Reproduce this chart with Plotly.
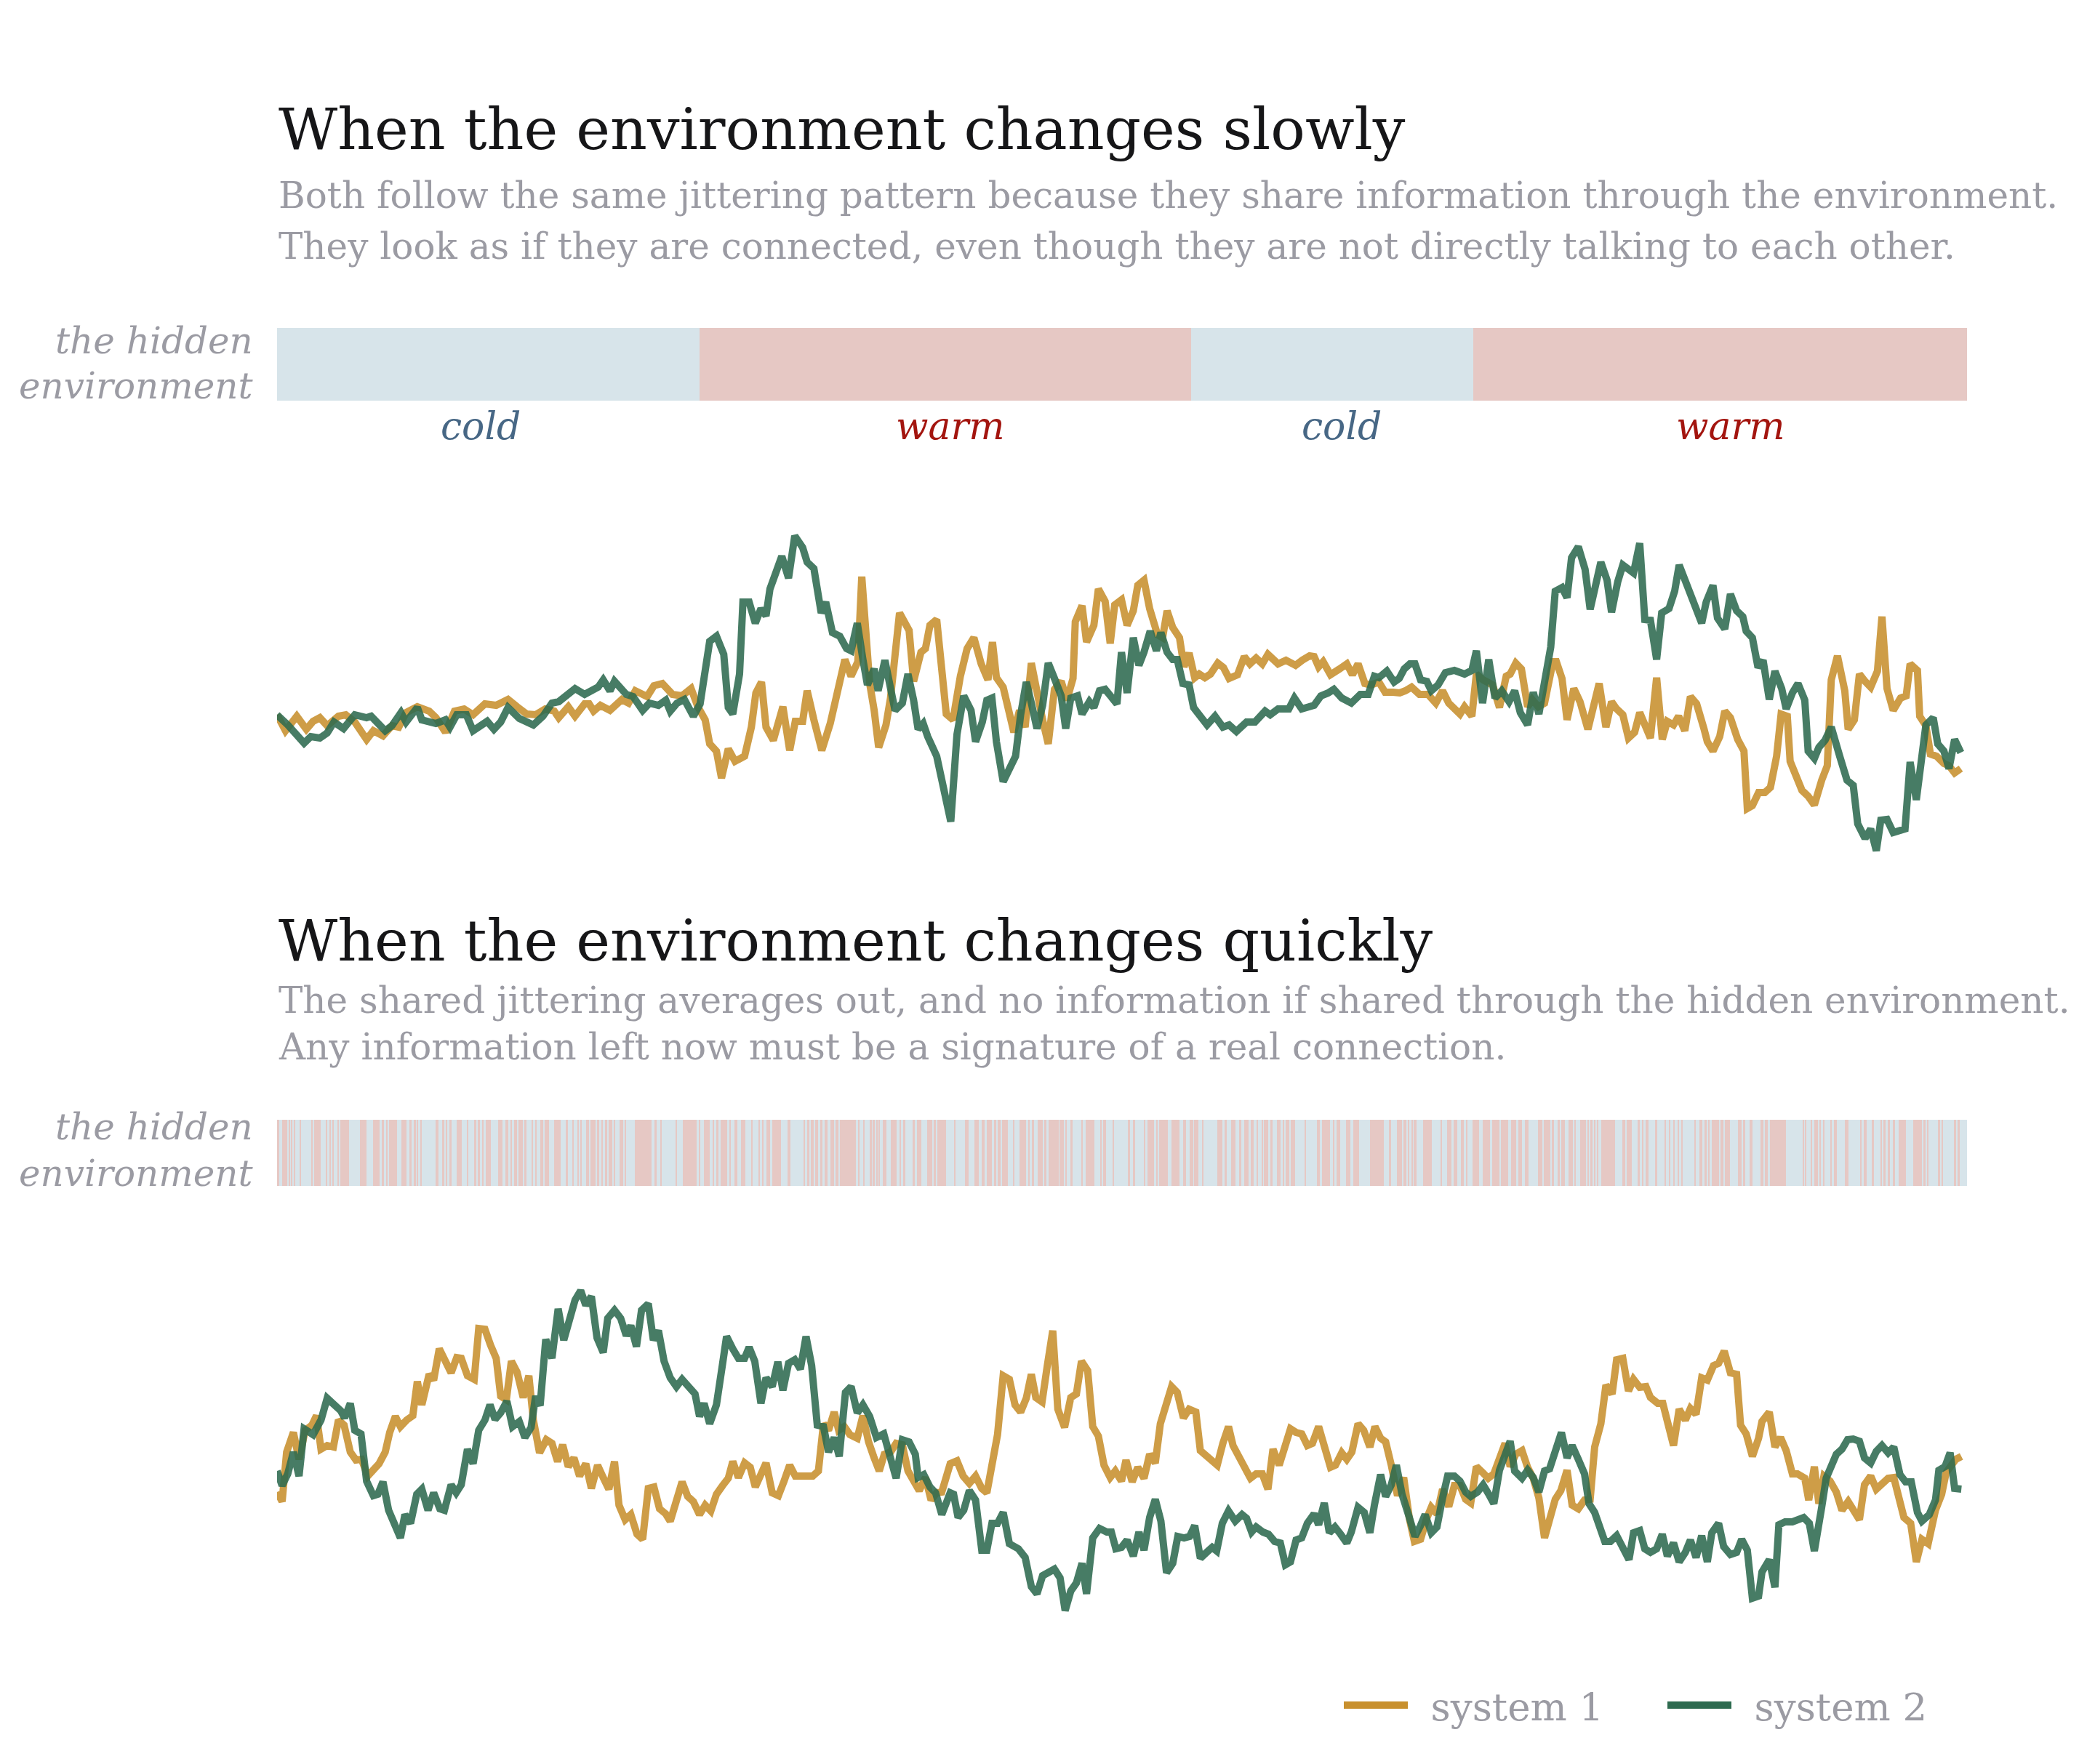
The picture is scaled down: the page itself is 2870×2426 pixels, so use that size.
import plotly.graph_objects as go

W, H = 2870, 2426

# ---------------- data ----------------
# slow panel, system 1 (orange) : time step, value
slow_s1_t = [0,1.5,3.5,5.2,6.4,7.6,8.9,10.9,12.2,13.8,15.9,17.1,18.8,20.4,21.6,22.9,24.9,27.0,28.2,29.9,31.5,33.2,34.8,36.9,38.9,41.0,42.6,44.3,45.9,47.6,49.2,50.0,51.7,52.9,54.6,55.4,56.2,57.4,59.1,61.2,62.4,63.6,65.7,66.9,68.4,70.2,71.9,73.5,74.7,76.0,76.8,78.0,78.9,80.1,81.3,83.0,84.2,85.0,86.0,86.8,88.1,89.8,91.0,92.0,93.3,94.1,95.3,96.7,98.2,99.4,100.8,101.9,103.1,103.8,105.2,106.0,106.8,108.1,108.9,110.5,112.2,113.0,114.3,115.1,115.9,117.1,118.8,120.0,121.3,122.5,123.7,125.0,126.2,127.0,127.7,128.9,129.7,130.8,131.8,132.8,133.9,135.1,135.9,136.9,138.0,139.2,140.2,141.3,141.7,142.9,143.7,145.0,145.8,147.0,147.9,148.7,149.9,150.9,152.0,152.8,153.9,154.9,156.3,157.2,158.0,159.0,160.2,161.0,161.9,162.9,163.7,164.7,165.7,167.0,168.0,169.0,170.5,171.7,172.7,173.8,174.9,175.9,177.7,179.1,180.8,182.0,183.3,184.1,184.9,185.7,187.0,188.6,189.9,190.9,191.9,193.1,194.2,195.6,196.7,198.1,199.3,200.3,201.4,202.8,204.3,205.7,206.9,208.0,210.0,210.8,212.1,212.9,214.1,215.8,217.0,218.2,218.9,219.9,220.9,222.0,222.8,223.9,225.0,226.5,227.1,228.1,229.0,230.2,231.3,232.7,233.7,234.7,235.9,236.9,237.8,238.9,239.9,241.0,241.9,243.0,243.8,244.9,245.9,246.8,247.9,248.8,249.9,250.9,252.0,253.3,253.9,254.9,256.1,257.0,258.0,259.3,260.4,261.0,261.9,263.0,264.1,265.1,266.2,267.0,268.1,268.6,269.6,270.7,271.8,272.9,274.2,275.2,275.9,277.0,278.3,278.9,280.0,280.9,281.9,282.9,284.1,284.9,285.8,286.9,288.2,289.2,289.9,291.2,291.6,292.7,293.5,294.6,295.9,296.8,297.8,298.9]
slow_s1_v = [0.2,-2.0,0.0,-1.8,-0.7,-0.2,-1.3,0.0,0.2,-0.8,-3.2,-2.0,-2.7,-1.3,-1.5,0.5,1.3,0.7,-0.2,-2.2,0.7,1.0,0.2,1.7,1.5,2.3,1.3,0.3,0.2,1.0,0.7,-0.2,1.3,0.0,1.7,1.7,0.7,1.5,0.8,2.3,1.8,3.5,2.7,4.2,4.5,3.0,2.8,3.8,1.3,-0.5,-3.8,-4.8,-8.5,-4.5,-6.2,-5.5,-1.5,3.2,4.7,-1.5,-3.3,1.3,-4.7,-0.7,-0.7,3.5,-0.5,-4.7,-1.0,3.2,7.8,5.5,7.5,19.2,4.5,0.8,-4.3,-1.2,2.5,14.2,11.8,4.8,8.8,9.3,12.5,13.3,0.3,-0.5,5.5,9.3,10.8,7.2,5.0,10.2,5.3,4.0,1.3,-2.2,0.8,-1.5,7.3,1.8,-0.5,-3.8,3.7,4.8,2.2,5.2,13.0,15.2,10.2,12.5,17.5,15.8,10.0,15.3,16.0,12.5,14.5,18.0,18.7,14.8,11.2,10.8,14.5,12.2,10.8,6.8,8.7,5.3,5.8,5.3,5.8,7.3,6.7,5.2,5.7,8.2,7.2,8.0,7.2,8.5,7.2,7.7,7.0,7.7,8.3,8.2,6.8,7.5,5.7,6.5,7.2,5.7,7.2,4.5,4.3,4.7,3.3,3.3,3.2,3.5,4.0,3.0,3.0,1.8,3.5,1.8,0.3,1.3,0.0,5.8,5.0,4.3,1.2,5.5,5.8,7.3,6.5,1.3,2.3,1.3,1.8,7.5,7.5,5.2,-0.5,3.8,2.0,-1.8,1.7,4.5,-1.5,2.0,1.0,0.2,-3.0,-2.2,0.5,-1.5,-3.0,5.3,-3.2,-0.7,-1.2,0.0,-2.0,2.7,1.7,-1.7,-3.5,-4.8,-2.8,0.7,-0.2,-3.2,-4.8,-12.7,-12.3,-10.5,-10.5,-9.8,-5.5,0.3,0.0,-6.2,-8.2,-10.2,-11.0,-12.2,-8.8,-6.8,5.0,8.3,3.5,-1.8,-0.5,5.8,4.8,4.0,6.2,13.7,3.8,0.8,2.5,2.8,7.2,6.3,0.0,-1.3,-5.2,-5.5,-6.5,-6.8,-7.8,-7.2]

# slow panel, system 2 (green)
slow_s2_t = [0,1.9,4.8,6.0,7.6,8.9,10.1,11.8,13.8,15.9,16.7,19.2,20.4,22.0,22.9,24.9,25.7,28.2,29.9,30.7,31.9,33.6,34.8,37.3,38.5,39.7,41.0,43.0,45.5,47.2,48.8,50.0,52.9,54.6,57.0,57.9,59.1,59.9,62.0,63.2,64.9,66.1,67.7,69.0,69.8,71.0,72.3,73.9,75.1,76.0,76.8,78.0,79.3,80.1,80.9,82.1,82.7,83.8,84.9,85.9,86.8,87.5,88.3,89.6,90.8,91.9,93.3,94.1,95.3,96.6,97.4,98.6,99.9,101.1,101.9,103.0,104.0,104.8,106.0,106.7,107.9,109.7,111.0,112.0,113.0,113.8,114.7,115.5,117.1,118.4,119.6,120.7,121.9,123.2,124.0,125.2,126.0,126.9,127.7,128.9,130.2,131.1,132.0,133.0,133.9,134.9,135.9,136.9,138.0,139.2,140.0,140.9,142.1,142.9,144.2,145.0,146.0,147.0,149.1,149.9,150.9,152.0,153.0,153.9,155.0,156.1,156.9,158.0,159.0,159.8,160.8,161.9,162.7,163.7,165.1,166.5,167.9,169.0,170.3,172.1,173.6,175.4,176.3,177.7,179.6,180.6,181.9,184.1,185.3,186.6,187.6,189.0,190.7,192.3,193.7,194.8,195.6,197.0,198.3,199.2,200.1,201.1,202.0,203.0,204.1,204.9,206.1,207.4,209.0,210.8,212.1,212.9,214.0,215.1,216.2,217.4,218.7,219.7,220.7,222.0,223.0,224.0,225.2,226.1,226.9,228.1,229.0,229.8,231.0,232.2,233.1,235.0,236.1,236.9,238.0,238.9,240.8,241.9,242.8,243.8,244.9,245.8,247.1,248.1,248.9,250.3,251.6,252.9,253.7,254.9,255.7,257.0,258.0,259.1,260.2,260.8,261.9,262.9,263.8,264.9,265.9,267.1,267.9,269.0,270.0,271.2,271.8,272.9,273.7,274.8,275.9,276.5,277.4,278.7,279.8,280.6,281.9,282.9,283.9,284.7,285.8,286.9,289.0,289.9,291.0,292.7,294.0,294.8,295.9,296.8,297.8,298.9]
slow_s2_v = [0.2,-1.2,-3.7,-2.8,-3.0,-2.3,-0.8,-1.7,0.2,-0.2,0.0,-2.0,-1.3,0.5,-0.8,1.2,-0.5,-1.0,-0.5,-1.5,0.2,0.2,-2.0,-0.7,-1.8,-0.8,1.2,-0.3,-1.2,0.0,1.8,2.0,3.8,3.0,4.0,5.0,3.5,4.8,3.0,2.7,0.8,1.8,1.5,2.2,0.7,1.8,2.3,0.0,1.7,6.8,10.3,11.0,8.5,1.2,0.3,5.8,15.7,15.7,12.8,14.8,13.8,17.5,19.5,22.0,19.0,24.8,23.2,21.2,20.3,14.2,15.7,11.5,11.0,9.3,9.0,12.8,7.8,4.3,6.5,3.5,7.7,0.8,1.8,5.8,2.2,-1.8,-1.0,-2.8,-5.5,-10.5,-14.5,-2.5,2.8,0.8,-3.5,-0.8,2.2,2.5,-3.5,-9.0,-7.2,-5.5,0.2,4.7,1.8,-1.7,1.5,7.3,5.2,2.8,-1.7,2.5,2.8,0.3,2.0,1.2,3.5,3.7,1.7,8.8,3.2,10.8,7.0,8.8,11.7,9.0,11.5,8.8,7.8,7.8,4.5,4.3,1.2,0.3,-1.2,0.0,-1.5,-1.2,-2.1,-0.8,-0.8,0.7,0.2,1.0,1.0,2.5,1.0,1.5,2.8,3.2,3.7,2.5,1.8,3.0,3.0,5.5,5.3,6.2,4.7,5.2,6.5,7.2,7.2,5.0,4.8,3.5,4.3,6.0,6.3,5.8,6.3,9.0,1.8,7.8,2.5,3.5,2.0,3.5,0.5,-1.2,3.3,0.3,5.5,9.5,17.2,17.7,16.3,21.8,23.3,20.2,14.7,21.2,18.7,14.3,18.5,20.8,19.7,23.8,13.3,13.2,7.8,14.2,14.8,17.2,20.8,17.8,15.2,12.8,15.7,18.0,13.5,12.0,16.8,14.5,13.7,11.7,10.8,6.7,7.7,2.3,6.2,3.8,1.0,3.2,4.5,2.2,-4.8,-5.8,-4.3,-3.3,-1.5,-3.5,-5.5,-8.8,-9.5,-14.8,-16.8,-15.5,-18.5,-14.3,-14.2,-16.0,-15.5,-6.3,-11.5,-1.2,-0.2,-3.8,-4.8,-7.2,-3.2,-5.0]

# fast panel, system 1 (orange)
fast_s1_t = [0,0.9,1.7,2.9,3.9,5.0,6.2,7.0,7.8,8.9,10.0,10.9,11.9,13.0,14.0,15.0,16.1,17.1,18.1,19.2,20.0,21.0,21.9,23.0,24.1,24.9,25.7,27.0,27.8,28.8,29.9,30.9,31.9,32.7,33.8,35.0,35.8,36.9,37.9,38.9,39.7,40.7,41.6,42.6,43.7,44.7,45.5,46.6,47.8,48.8,49.8,50.7,51.7,52.7,53.7,54.8,55.8,56.9,57.9,58.9,59.9,60.7,61.8,62.8,63.9,64.9,65.9,66.9,67.9,69.0,69.8,70.9,71.9,72.9,73.9,75.0,76.0,77.0,78.0,79.1,80.1,80.9,81.9,83.0,84.0,84.9,85.9,86.8,87.9,89.0,90.0,91.0,92.0,94.1,95.1,96.1,97.0,97.9,98.9,99.7,100.7,101.7,103.0,104.0,105.0,105.9,106.9,107.8,108.9,109.9,111.0,112.0,113.0,114.0,115.1,116.1,117.1,118.0,119.5,120.7,121.8,122.9,124.0,125.1,126.0,126.9,127.9,128.9,130.0,131.0,132.0,133.0,133.9,134.7,135.8,136.7,137.7,138.6,139.8,140.9,141.9,142.8,143.9,144.8,145.8,146.8,147.9,148.8,149.9,150.7,151.8,152.8,153.9,154.9,155.9,156.8,157.7,158.8,159.8,160.9,161.9,163.1,163.9,165.0,166.0,166.9,167.9,168.9,169.7,170.7,171.7,172.8,173.8,174.9,175.9,176.8,177.9,179.0,179.9,180.9,181.9,182.9,183.8,184.9,186.0,187.0,187.9,189.0,189.9,190.8,191.9,192.9,194.0,194.9,195.9,196.8,197.8,198.9,200.0,201.0,201.9,203.0,204.1,204.9,205.9,206.9,208.0,209.0,210.0,211.0,211.9,212.9,214.0,215.0,216.0,217.0,218.0,218.9,219.9,221.0,222.0,223.0,224.0,225.0,225.9,226.9,227.9,229.0,229.9,231.0,232.1,233.1,233.9,235.0,235.9,237.0,237.8,238.9,239.9,240.8,241.9,243.0,243.8,245.1,246.0,246.8,247.9,248.9,250.0,250.9,251.9,252.9,253.9,255.0,255.9,256.9,258.0,259.1,259.8,260.8,261.9,263.0,263.6,264.9,265.9,266.9,267.9,269.0,269.9,271.2,271.9,272.9,273.7,274.6,275.7,276.8,277.8,278.9,280.0,280.9,281.8,282.9,283.9,284.9,286.0,287.0,288.0,288.8,290.0,291.0,292.0,293.1,294.4,295.5,296.3,297.2,298.0,299.0]
fast_s1_v = [-2.7,-4.0,2.8,5.5,1.8,5.8,6.5,7.8,3.2,3.7,3.5,7.2,6.5,2.8,1.7,1.8,-0.5,0.3,1.2,2.8,5.5,7.7,6.3,7.2,7.8,12.5,9.3,13.5,12.7,17.0,15.2,13.7,15.8,15.7,13.3,12.8,19.8,19.7,17.5,15.7,10.5,10.0,15.3,13.8,10.3,13.3,7.2,2.7,4.5,4.0,1.5,3.8,0.8,2.0,-0.5,1.2,-2.2,1.0,-0.7,-2.3,1.5,-4.5,-6.5,-5.8,-8.5,-9.2,-2.2,-2.0,-5.0,-5.7,-6.7,-3.5,-1.3,-3.3,-4.0,-5.8,-4.5,-5.3,-3.0,-1.8,-0.8,1.5,-0.7,1.3,0.7,-2.0,-0.5,1.3,-2.8,-3.2,-1.2,1.0,-0.5,-0.5,-0.5,0.2,6.7,5.8,8.3,5.8,6.3,5.2,4.7,7.8,4.2,2.2,0.2,2.5,2.8,4.0,3.8,0.2,-1.3,-2.5,-0.7,-3.8,-2.8,-2.7,1.2,1.6,-0.5,-1.5,-0.5,-2.2,-2.8,1.2,5.2,13.3,12.8,9.3,8.3,10.2,13.5,10.3,9.7,14.5,19.5,8.7,6.2,10.3,10.8,15.3,14.0,6.3,5.0,1.0,-0.7,0.2,-1.2,1.7,-1.3,0.7,-0.8,2.5,1.3,6.7,9.0,11.8,11.0,7.5,8.7,8.3,3.0,2.3,1.8,1.0,4.0,6.3,3.7,2.2,0.8,-0.8,-0.2,-0.2,-2.3,3.2,1.0,3.7,6.0,5.5,5.3,3.7,4.0,6.3,3.0,0.7,1.0,2.7,1.8,2.8,6.7,5.8,3.5,6.3,4.7,4.2,1.0,-3.2,-0.7,-6.3,-9.5,-9.2,-6.3,-4.8,-5.7,-2.3,-4.7,-1.8,-1.8,-3.7,-4.2,0.8,0.0,-0.8,-0.2,2.2,4.0,0.8,2.5,3.0,0.7,-0.8,-3.5,-9.0,-6.2,-3.7,-2.5,0.3,-4.5,-5.0,-3.8,-3.7,3.5,6.7,12.0,10.8,15.5,15.7,11.2,12.8,11.7,11.8,10.3,9.5,9.5,7.3,3.7,8.7,7.2,8.8,8.0,13.0,12.7,14.7,15.0,16.7,13.7,13.5,6.5,5.3,2.2,4.7,7.0,8.3,3.5,4.8,3.0,-0.2,-0.2,-0.8,-3.8,0.8,-4.3,-0.5,-1.2,-2.7,-5.2,-4.0,-5.2,-6.5,-1.7,-0.5,-2.3,-1.7,-0.8,-0.7,-3.7,-6.2,-7.0,-12.3,-9.2,-9.8,-5.2,-3.0,0.0,1.2,1.8,2.2]

# fast panel, system 2 (green)
fast_s2_t = [0,0.9,1.9,2.9,3.9,4.8,6.4,7.8,8.9,10.1,11.3,12.0,13.0,13.8,14.9,15.9,17.1,17.9,18.8,19.8,20.8,21.9,22.7,23.7,24.8,25.7,26.8,27.8,28.9,29.7,30.9,31.8,32.7,33.8,34.8,35.8,36.9,37.8,38.7,39.7,40.8,41.8,43.0,44.0,45.1,45.9,46.7,47.7,48.8,49.9,50.9,51.7,52.9,53.9,54.8,55.8,56.8,57.9,58.7,59.9,61.0,62.0,62.8,63.8,64.7,65.9,66.8,67.7,68.7,69.8,70.9,71.9,73.1,74.2,75.0,75.8,76.8,78.0,79.1,79.8,80.9,81.9,83.0,83.8,84.8,85.9,86.8,87.9,88.9,89.8,90.8,91.9,92.9,93.9,94.9,95.9,97.0,97.9,98.9,99.8,100.9,101.9,103.0,104.0,105.2,106.4,107.7,108.9,109.9,111.0,112.2,113.3,113.8,114.8,115.9,116.9,118.0,119.5,120.1,120.9,121.9,122.9,124.0,125.1,126.0,126.9,127.9,128.9,130.0,131.6,132.8,133.9,134.9,135.9,136.9,138.0,139.0,139.9,140.9,141.9,142.9,143.7,144.8,146.0,147.3,148.1,148.9,149.9,150.9,152.0,153.0,153.9,154.9,155.9,156.9,157.9,159.0,159.9,161.0,162.0,162.9,163.9,165.0,166.0,166.8,167.8,168.9,170.1,171.3,172.1,173.0,173.8,175.0,176.0,177.1,178.1,179.0,179.9,180.9,181.9,182.9,184.1,184.9,185.9,186.8,187.8,188.8,189.9,190.7,191.9,193.0,194.0,194.8,195.9,196.8,197.8,198.7,199.7,201.0,202.0,203.0,203.8,204.9,205.9,206.9,207.8,209.0,210.0,211.0,211.9,213.1,214.1,215.1,216.0,217.0,218.0,218.9,219.7,221.0,222.0,223.0,224.0,225.0,225.9,226.9,228.0,229.0,229.9,231.0,232.1,232.9,233.9,235.7,236.7,237.8,238.9,240.0,240.8,241.9,242.8,243.8,244.9,245.9,246.8,247.9,248.9,250.0,250.9,251.9,252.9,253.9,254.7,255.9,256.8,258.0,259.1,260.0,261.0,261.9,263.0,263.6,264.9,265.9,266.6,267.7,269.0,271.0,272.0,272.9,274.2,275.0,276.8,277.8,278.8,279.8,280.9,281.8,282.9,283.9,284.9,286.0,287.0,288.1,289.1,290.1,291.2,292.0,293.3,294.4,295.0,296.1,297.0,297.8,299.0]
fast_s2_v = [0.2,-1.8,-0.2,2.8,-0.5,6.0,5.2,7.2,10.2,9.2,8.5,7.5,9.5,5.8,5.3,-1.2,-3.2,-3.0,-1.3,-5.2,-7.2,-9.0,-5.8,-7.0,-3.0,-2.3,-5.2,-2.8,-5.0,-5.2,-1.7,-2.8,-1.7,3.2,1.2,5.8,7.2,9.3,7.3,8.2,9.8,6.3,7.0,4.8,6.2,10.5,9.2,18.3,15.7,22.5,18.2,20.5,23.7,25.0,23.0,24.2,18.5,16.5,21.2,22.3,21.2,18.8,20.2,17.3,22.3,23.2,18.2,19.5,15.3,13.0,11.8,12.8,11.7,10.8,7.7,9.5,6.7,9.3,15.0,18.7,17.0,15.7,15.7,17.2,15.3,9.5,13.0,11.8,15.2,11.3,15.0,15.5,14.2,18.7,14.7,6.5,6.3,2.8,4.8,2.2,11.0,11.8,8.2,9.3,7.7,4.8,5.3,2.2,-0.8,4.5,4.2,2.5,-0.7,-0.3,-2.0,-2.8,-5.8,-2.8,-3.0,-6.2,-5.2,-2.5,-3.8,-10.7,-10.7,-7.0,-7.0,-5.5,-9.8,-10.5,-11.7,-15.7,-16.7,-14.2,-13.8,-13.3,-14.5,-19.0,-16.3,-15.2,-12.5,-16.7,-9.0,-7.7,-8.2,-8.2,-10.5,-10.3,-9.3,-11.5,-8.2,-10.7,-6.2,-3.7,-6.7,-13.8,-12.5,-8.8,-9.0,-8.8,-7.3,-11.8,-11.0,-10.3,-10.8,-7.0,-5.3,-6.7,-5.8,-6.3,-8.2,-7.5,-8.2,-8.5,-9.5,-9.7,-12.7,-12.3,-9.3,-9.0,-7.0,-5.7,-7.2,-4.2,-8.3,-7.5,-8.5,-9.7,-8.2,-4.8,-5.5,-8.3,-4.5,-0.3,-3.3,-1.7,1.0,-3.0,-6.2,-8.8,-7.3,-5.8,-8.3,-7.5,-3.5,-0.5,-0.5,-1.2,-2.7,-3.3,-2.7,-1.7,-3.0,-4.3,0.3,2.8,4.3,0.2,-0.8,0.3,-0.7,-2.7,0.2,0.5,3.0,5.5,2.0,3.7,1.8,-0.2,-4.3,-5.5,-9.5,-9.5,-8.7,-10.5,-12.0,-8.3,-8.0,-10.5,-11.0,-10.5,-8.5,-11.5,-9.7,-12.3,-11.0,-9.3,-11.7,-8.7,-12.3,-8.3,-7.0,-10.2,-11.3,-11.0,-9.2,-10.7,-17.3,-17.0,-13.7,-12.0,-15.8,-7.2,-6.8,-6.8,-6.2,-7.0,-10.8,-4.8,-0.8,2.5,3.2,4.5,4.6,4.3,2.0,1.3,2.9,3.7,2.7,3.5,-0.3,-1.3,-1.3,-5.5,-6.7,-5.8,-3.8,0.3,0.8,2.7,-2.2,-2.3]

# hidden environment, slow: segment edges (time steps) and state
slow_env_edges = [0, 75, 162.3, 212.3, 300]
slow_env_states = ["cold", "warm", "cold", "warm"]

# hidden environment, fast: warm intervals (time steps); everything else is cold
fast_env_warm_start = [0.0,0.16,0.95,2.07,2.47,2.99,3.98,6.09,6.62,8.66,9.32,9.84,10.83,11.23,14.72,17.09,18.54,19.40,19.92,22.03,23.48,24.21,24.80,25.46,28.16,29.34,29.94,30.60,31.85,33.63,35.01,35.60,36.46,36.99,39.29,40.48,41.40,42.06,42.85,43.84,45.22,45.88,46.74,47.46,49.17,51.28,52.40,53.26,53.92,54.90,55.63,56.81,57.60,58.26,58.86,59.71,60.83,61.82,63.47,66.96,68.08,70.85,72.03,74.99,75.79,77.30,77.96,78.75,80.27,81.25,82.37,84.22,85.40,86.19,86.85,87.97,90.67,93.44,94.10,94.76,95.55,96.41,97.26,98.18,99.11,99.90,
    101.83,103.08,104.00,105.19,105.85,106.31,106.84,107.49,109.01,110.46,111.12,112.76,113.62,115.40,116.59,117.24,120.21,122.12,123.77,125.08,125.94,127.26,127.98,128.64,130.68,131.80,133.32,133.98,135.03,136.15,136.94,138.92,139.97,140.89,142.74,143.53,146.23,146.69,148.34,150.97,151.96,153.81,154.46,156.05,156.57,158.81,160.85,162.04,162.83,164.15,166.91,168.23,169.42,170.74,171.72,172.91,173.83,174.75,175.21,176.33,177.52,178.51,179.10,179.89,182.40,184.57,185.56,187.40,188.06,189.77,191.09,193.99,197.41,198.73,199.92,
    200.74,201.40,201.79,202.06,203.38,206.54,207.72,208.84,210.16,211.15,212.27,214.05,215.69,217.21,219.05,220.37,221.49,223.80,224.85,226.30,227.29,228.01,229.26,230.25,231.31,232.62,233.15,233.81,234.34,235.06,238.82,239.54,241.58,242.24,242.90,244.61,246.39,247.12,247.84,248.57,249.23,251.66,252.52,253.44,254.10,254.63,256.27,256.99,259.37,260.23,261.35,263.32,264.11,265.04,270.77,271.23,272.28,272.94,273.86,274.39,275.84,276.37,278.34,280.98,281.64,283.09,284.60,285.19,285.92,286.77,287.89,290.40,292.31,292.97,294.81,295.47,297.71,298.37]
fast_env_warm_end = [0.03,0.42,1.81,2.27,2.73,3.26,4.31,6.29,7.74,8.92,9.52,10.11,11.03,12.81,15.84,18.14,18.94,19.66,21.31,23.02,23.88,24.60,25.06,25.72,28.69,29.67,30.20,30.99,32.84,33.89,35.34,36.00,36.72,37.97,40.08,41.07,41.73,42.59,43.57,44.23,45.48,46.14,47.20,48.32,50.29,51.67,52.73,53.59,54.05,55.43,56.55,57.21,57.80,58.66,59.45,59.98,61.49,62.02,66.43,67.42,68.21,71.04,74.47,75.13,76.84,77.63,78.42,79.94,80.60,81.71,83.10,84.42,85.73,86.39,87.51,89.49,91.14,93.77,94.43,95.29,96.08,96.87,97.72,98.84,99.70,101.87,
    102.69,103.34,104.33,105.58,106.05,106.64,107.03,108.22,110.00,110.79,111.51,113.23,114.41,116.26,116.91,118.76,120.34,122.78,124.62,125.61,126.93,127.72,128.44,129.69,130.88,132.99,133.58,134.37,135.95,136.61,138.79,139.64,140.24,141.16,143.07,145.11,146.43,147.15,148.60,151.43,152.36,154.13,155.72,156.37,158.09,160.26,161.31,162.63,163.49,164.48,167.77,168.56,170.08,171.20,172.51,173.37,174.16,175.02,176.00,176.66,178.11,178.84,179.63,180.75,182.66,185.10,186.87,187.67,188.72,190.56,192.14,196.43,197.74,199.72,200.44,
    201.00,201.53,201.93,202.32,204.96,206.80,208.51,209.50,210.69,211.35,213.39,215.30,216.95,218.53,219.98,221.03,222.15,224.65,225.97,226.70,227.75,228.61,229.99,230.52,232.36,232.89,233.55,234.07,234.60,237.50,239.34,240.46,241.85,242.51,243.43,245.01,246.59,247.38,248.17,248.83,249.49,251.86,252.98,253.84,254.36,255.94,256.73,257.92,260.03,260.69,261.87,263.85,264.64,267.80,271.10,271.36,272.55,273.60,274.06,274.65,276.04,276.89,279.00,281.31,282.16,283.48,284.93,285.59,286.38,287.24,289.21,292.04,292.70,293.16,295.21,295.80,298.11,298.76]

titles = ["When the environment changes slowly", "When the environment changes quickly"]
subtitles = [
    ["Both follow the same jittering pattern because they share information through the environment.",
     "They look as if they are connected, even though they are not directly talking to each other."],
    ["The shared jittering averages out, and no information if shared through the hidden environment.",
     "Any information left now must be a signature of a real connection."],
]
series_names = ["system 1", "system 2"]

# ---------------- style ----------------
FONT = "DejaVu Serif"
COLD, WARM = "#d7e4ea", "#e6c8c4"
COLD_TXT, WARM_TXT = "#476785", "#a3150f"
ORANGE, GREEN = "#c8902e", "#2e6b50"
GRAY, DARK = "#9b9ba3", "#161618"
LABEL_XSHIFT = [-11, 7, 13, 15]   # small nudges of the cold/warm labels (px)

def py(p):
    return 1 - p / H

XDOM = [381 / W, 2705 / W]

fig = go.Figure()

# strip 1 (slow env)
centers = [(a + b) / 2 for a, b in zip(slow_env_edges[:-1], slow_env_edges[1:])]
widths = [b - a for a, b in zip(slow_env_edges[:-1], slow_env_edges[1:])]
fig.add_trace(go.Bar(x=centers, y=[1] * len(centers), width=widths,
                     marker=dict(color=[COLD if s == "cold" else WARM for s in slow_env_states], line=dict(width=0)),
                     xaxis="x2", yaxis="y2", showlegend=False, hoverinfo="skip"))

# strip 2 (fast env): cold background over the whole period + warm intervals
fig.add_trace(go.Bar(x=[(slow_env_edges[0] + slow_env_edges[-1]) / 2], y=[1],
                     width=[slow_env_edges[-1] - slow_env_edges[0]],
                     marker=dict(color=COLD, line=dict(width=0)),
                     xaxis="x4", yaxis="y4", showlegend=False, hoverinfo="skip"))
fc = [(a + b) / 2 for a, b in zip(fast_env_warm_start, fast_env_warm_end)]
fw = [b - a for a, b in zip(fast_env_warm_start, fast_env_warm_end)]
fig.add_trace(go.Bar(x=fc, y=[1] * len(fc), width=fw, marker=dict(color=WARM, line=dict(width=0)),
                     xaxis="x4", yaxis="y4", showlegend=False, hoverinfo="skip"))

LW = 10
for t, v, col in [(slow_s1_t, slow_s1_v, ORANGE), (slow_s2_t, slow_s2_v, GREEN)]:
    fig.add_trace(go.Scatter(x=t, y=v, mode="lines", line=dict(color=col, width=LW), opacity=0.88,
                             xaxis="x", yaxis="y", showlegend=False))
for t, v, col in [(fast_s1_t, fast_s1_v, ORANGE), (fast_s2_t, fast_s2_v, GREEN)]:
    fig.add_trace(go.Scatter(x=t, y=v, mode="lines", line=dict(color=col, width=LW), opacity=0.88,
                             xaxis="x3", yaxis="y3", showlegend=False))
# legend entries
for name, col in zip(series_names, [ORANGE, GREEN]):
    fig.add_trace(go.Scatter(x=[None], y=[None], mode="lines", name="\u2002" + name,
                             line=dict(color=col, width=13), xaxis="x3", yaxis="y3"))

ax_common = dict(showgrid=False, zeroline=False, showticklabels=False, ticks="", showline=False, fixedrange=True)
fig.update_layout(
    width=W, height=H, margin=dict(l=0, r=0, t=0, b=0),
    paper_bgcolor="white", plot_bgcolor="rgba(0,0,0,0)",
    barmode="overlay", bargap=0,
    xaxis=dict(domain=XDOM, range=[0, 300], anchor="y", **ax_common),
    yaxis=dict(domain=[py(1200), py(700)], range=[-21.5, 28.5], anchor="x", **ax_common),
    xaxis2=dict(domain=XDOM, range=[0, 300], anchor="y2", **ax_common),
    yaxis2=dict(domain=[py(551), py(451)], range=[0, 1], anchor="x2", **ax_common),
    xaxis3=dict(domain=XDOM, range=[0, 300], anchor="y3", **ax_common),
    yaxis3=dict(domain=[py(2240), py(1740)], range=[-21.5, 28.5], anchor="x3", **ax_common),
    xaxis4=dict(domain=XDOM, range=[0, 300], anchor="y4", **ax_common),
    yaxis4=dict(domain=[py(1631), py(1540)], range=[0, 1], anchor="x4", **ax_common),
    showlegend=True,
    legend=dict(orientation="h", x=1843 / W, xanchor="left", y=py(2345), yanchor="middle",
                font=dict(family=FONT, size=53, color=GRAY), itemwidth=88, entrywidth=342,
                bgcolor="rgba(0,0,0,0)"),
    font=dict(family=FONT),
)

ann = []
def text(x, y, s, size, color, xanchor="left"):
    ann.append(dict(x=x, y=y, xref="paper", yref="paper", text=s, showarrow=False, xanchor=xanchor,
                    yanchor="middle", font=dict(family=FONT, size=size, color=color)))

for i, (ty, sy, ly) in enumerate([(178, (269, 339), (469, 531)), (1294, (1376, 1440), (1550, 1614))]):
    text(381 / W, py(ty), titles[i], 79, DARK)
    text(381 / W, py(sy[0]), subtitles[i][0], 50, GRAY)
    text(381 / W, py(sy[1]), subtitles[i][1], 50, GRAY)
    text(350 / W, py(ly[0]), "<i>the hidden</i>", 50, GRAY, xanchor="right")
    text(350 / W, py(ly[1]), "<i>environment</i>", 50, GRAY, xanchor="right")

for c, s, dx in zip(centers, slow_env_states, LABEL_XSHIFT):
    ann.append(dict(x=c, y=py(586), xref="x2", yref="paper", text="<i>%s</i>" % s, showarrow=False,
                    xanchor="center", yanchor="middle", xshift=dx,
                    font=dict(family=FONT, size=52, color=COLD_TXT if s == "cold" else WARM_TXT)))

fig.update_layout(annotations=ann)
fig.write_html("out.html")
